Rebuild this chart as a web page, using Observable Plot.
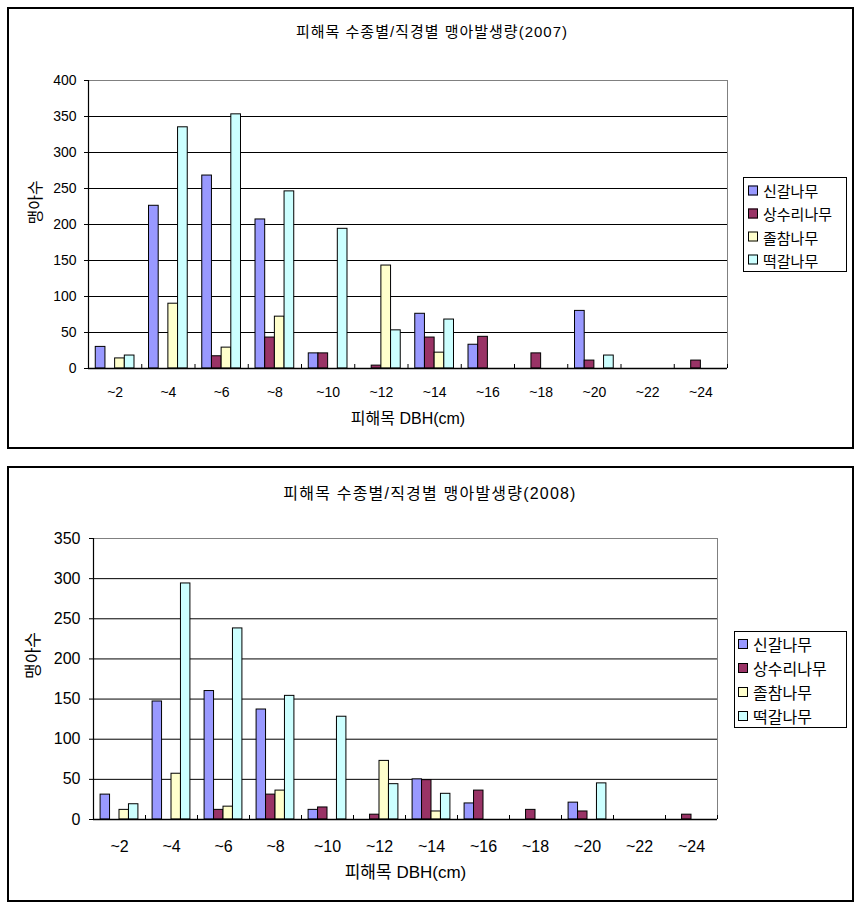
<!DOCTYPE html>
<html>
<head>
<meta charset="utf-8">
<script src="https://cdn.jsdelivr.net/npm/d3@7"></script>
<script src="https://cdn.jsdelivr.net/npm/@observablehq/plot@0.6"></script>
<style>
  body { margin: 0; background: #fff; font-family: "Liberation Sans", "Noto Sans CJK KR", sans-serif; }
  #wrap { position: relative; width: 861px; height: 910px; overflow: hidden; background: #fff; }
  #wrap svg { position: absolute; left: 0; }
  .box { position: absolute; border: 2px solid #000; box-sizing: border-box; pointer-events: none; }
  .title { position: absolute; white-space: nowrap; transform: translate(-50%, -50%); color: #000; }
  .legend { position: absolute; border: 1.5px solid #000; box-sizing: border-box; background: #fff; }
  .row { position: absolute; display: flex; align-items: center; white-space: nowrap; transform: translateY(-50%); color: #000; }
  .sw { width: 10px; height: 10px; border: 1px solid #000; box-sizing: border-box; margin-right: 5px; flex: none; }
</style>
</head>
<body>
<div id="wrap"></div>
<script>
// ---- data ----
const categories = ["~2", "~4", "~6", "~8", "~10", "~12", "~14", "~16", "~18", "~20", "~22", "~24"];
const seriesNames = ["신갈나무", "상수리나무", "졸참나무", "떡갈나무"];
const seriesColors = ["#9999FF", "#993366", "#FFFFCC", "#CCFFFF"];

const singal2007   = [30, 226, 268, 207, 21, 0, 76, 33, 0, 80, 0, 0];
const sangsuri2007 = [0, 0, 17, 43, 21, 4, 43, 44, 21, 11, 0, 11];
const joltcham2007 = [14, 90, 29, 72, 0, 143, 22, 0, 0, 0, 0, 0];
const tteokgal2007 = [18, 335, 353, 246, 194, 53, 68, 0, 0, 18, 0, 0];

const singal2008   = [31, 147, 160, 137, 12, 0, 50, 20, 0, 21, 0, 0];
const sangsuri2008 = [0, 0, 12, 31, 15, 6, 49, 36, 12, 10, 0, 6];
const joltcham2008 = [12, 57, 16, 36, 0, 73, 10, 0, 0, 0, 0, 0];
const tteokgal2008 = [19, 294, 238, 154, 128, 44, 32, 0, 0, 45, 0, 0];

const yTicks2007 = [0, 50, 100, 150, 200, 250, 300, 350, 400];
const yTicks2008 = [0, 50, 100, 150, 200, 250, 300, 350];

const title2007 = "피해목 수종별/직경별 맹아발생량(2007)";
const title2008 = "피해목 수종별/직경별 맹아발생량(2008)";
const xLabel = "피해목 DBH(cm)";
const yLabel = "맹아수";

// ---- build ----
const wrap = document.getElementById("wrap");

function tidy(seriesArrays) {
  const rows = [];
  seriesArrays.forEach((arr, si) => {
    arr.forEach((v, ci) => {
      if (v > 0) rows.push({ci, si, series: seriesNames[si], value: v});
    });
  });
  return rows;
}

// gap width 150%: group = 4 bars, gap = 1.5 bar
const barW = 1 / 5.5;
const groupStart = 0.75 / 5.5;

function makeChart(cfg) {
  const data = tidy(cfg.series);
  const ymax = cfg.yTicks[cfg.yTicks.length - 1];
  const bounds = d3.range(1, categories.length + 1);
  const fs = cfg.tickFont;
  const svg = Plot.plot({
    width: 861,
    height: cfg.height,
    marginLeft: cfg.mL, marginRight: cfg.mR, marginTop: cfg.mT, marginBottom: cfg.mB,
    x: {domain: [0, categories.length], axis: null},
    y: {domain: [0, ymax], axis: null},
    color: {domain: seriesNames, range: seriesColors},
    style: {background: "none", overflow: "visible", fontFamily: '"Liberation Sans", "Noto Sans CJK KR", sans-serif', fontSize: fs + "px", color: "#000"},
    marks: [
      Plot.gridY(cfg.yTicks.filter(t => t > 0 && t < ymax), {stroke: "#000", strokeOpacity: 1, strokeWidth: 1}),
      Plot.ruleY([ymax], {stroke: "#808080", strokeWidth: 1}),
      Plot.ruleX([categories.length], {stroke: "#808080", strokeWidth: 1}),
      Plot.rectY(data, {
        x1: d => d.ci + groupStart + d.si * barW,
        x2: d => d.ci + groupStart + (d.si + 1) * barW,
        y1: 0, y2: "value",
        fill: "series", stroke: "#000", strokeWidth: 1
      }),
      Plot.ruleX([0], {stroke: "#000", strokeWidth: 1.2}),
      Plot.ruleY([0], {stroke: "#000", strokeWidth: 1.5}),
      Plot.ruleX(bounds, {x: d => d, y1: 0, y2: 0, insetBottom: 4, stroke: "#000"}),
      Plot.axisY(cfg.yTicks, {tickSize: 4, tickPadding: cfg.yPad, fontSize: fs, stroke: "#000", label: null}),
      Plot.text(categories.map((c, i) => ({c, i})), {
        x: d => d.i + 0.5, text: "c", frameAnchor: "bottom", dy: cfg.xTickDy,
        lineAnchor: "middle", fontSize: fs, fill: "#000"
      }),
      Plot.text([xLabel], {text: d => d, frameAnchor: "bottom", dy: cfg.xLabDy, lineAnchor: "middle", fontSize: cfg.labFont, fill: "#000"}),
      Plot.text([yLabel], {text: d => d, frameAnchor: "left", dx: cfg.yLabDx, rotate: -90, lineAnchor: "middle", fontSize: cfg.labFont, fill: "#000"})
    ]
  });
  svg.style.top = cfg.top + "px";
  wrap.appendChild(svg);

  const box = document.createElement("div");
  box.className = "box";
  Object.assign(box.style, {left: cfg.box[0] + "px", top: cfg.box[1] + "px", width: cfg.box[2] + "px", height: cfg.box[3] + "px"});
  wrap.appendChild(box);

  const t = document.createElement("div");
  t.className = "title";
  t.textContent = cfg.title;
  Object.assign(t.style, {left: cfg.titleXY[0] + "px", top: cfg.titleXY[1] + "px", fontSize: cfg.titleFont + "px", letterSpacing: cfg.titleSpacing + "px"});
  wrap.appendChild(t);

  const lg = document.createElement("div");
  lg.className = "legend";
  Object.assign(lg.style, {left: cfg.legend[0] + "px", top: cfg.legend[1] + "px", width: cfg.legend[2] + "px", height: cfg.legend[3] + "px"});
  wrap.appendChild(lg);
  seriesNames.forEach((name, i) => {
    const r = document.createElement("div");
    r.className = "row";
    Object.assign(r.style, {left: cfg.legendRowX + "px", top: (cfg.legendRow0 + i * cfg.legendStep) + "px", fontSize: cfg.legendFont + "px"});
    const sw = document.createElement("div");
    sw.className = "sw";
    sw.style.background = seriesColors[i];
    const tx = document.createElement("span");
    tx.textContent = name;
    r.appendChild(sw); r.appendChild(tx);
    wrap.appendChild(r);
  });
}

makeChart({
  series: [singal2007, sangsuri2007, joltcham2007, tteokgal2007],
  yTicks: yTicks2007, title: title2007,
  top: 0, height: 450,
  mL: 88, mR: 134, mT: 80, mB: 82,
  tickFont: 14, labFont: 16, titleFont: 15, titleSpacing: 1, yPad: 8,
  xTickDy: 24, xLabDy: 50, yLabDx: -53,
  box: [7, 7, 847, 442],
  titleXY: [432, 30],
  legend: [743, 177, 104, 95], legendRowX: 748, legendRow0: 190, legendStep: 23.3, legendFont: 15
});

makeChart({
  series: [singal2008, sangsuri2008, joltcham2008, tteokgal2008],
  yTicks: yTicks2008, title: title2008,
  top: 460, height: 450,
  mL: 93, mR: 144, mT: 78, mB: 91,
  tickFont: 16, labFont: 17, titleFont: 16, titleSpacing: 1.2, yPad: 9,
  xTickDy: 27, xLabDy: 53, yLabDx: -60,
  box: [7, 466, 847, 436],
  titleXY: [430, 492],
  legend: [734, 631, 113, 97], legendRowX: 738, legendRow0: 644, legendStep: 24, legendFont: 16
});
</script>
</body>
</html>
